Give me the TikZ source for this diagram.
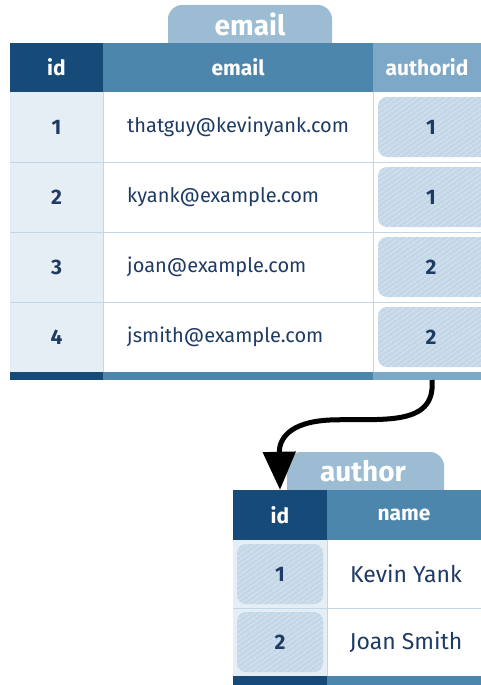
\documentclass[tikz,border=0pt]{standalone}
\usepackage{fontspec}
\setmainfont{Fira Sans}
\usepackage{tikz}
\usetikzlibrary{arrows.meta, patterns.meta, positioning}

\definecolor{hdark}{HTML}{164A78}
\definecolor{hmid}{HTML}{4D86AD}
\definecolor{hlight}{HTML}{7EA8C7}
\definecolor{tabc}{HTML}{9BBCD3}
\definecolor{idbg}{HTML}{E6EEF5}
\definecolor{linec}{HTML}{C3D6E6}
\definecolor{hatchc}{HTML}{C2D6E7}
\definecolor{txt}{HTML}{1F3B63}

\begin{document}
\begin{tikzpicture}[x=1pt,y=-1pt,
  hcell/.style={text=white, font=\bfseries\fontsize{21}{21}\selectfont, inner sep=0pt},
  cell/.style={text=txt, font=\fontsize{20}{20}\selectfont, inner sep=0pt},
  num/.style={text=txt, font=\bfseries\fontsize{21}{21}\selectfont, inner sep=0pt},
  tabtitle/.style={text=white, font=\bfseries\fontsize{28}{28}\selectfont, inner sep=0pt},
  hatchbox/.style={fill=hatchc, rounded corners=9pt, postaction={pattern={Lines[angle=35,distance=4pt,line width=1pt]}, pattern color=white!45!hatchc}},
  rule/.style={draw=linec, line width=1pt},
  fk/.style={line width=5pt, -{Triangle[width=32pt,length=38pt]}}]
\useasboundingbox (0,0) rectangle (481,685);
\clip (0,0) rectangle (481,685);

% email table
\fill[tabc, rounded corners=14pt] (168,60) -- (168,5) -- (332,5) -- (332,60) -- cycle;
\node[tabtitle] (temail) at (250,24) {email};
\node[hcell, fill=hdark, minimum width=93pt, minimum height=49pt] (hid) at (56.5,67.5) {id};
\node[hcell, fill=hmid, minimum width=270pt, minimum height=49pt] (hemail) at (238,67.5) {email};
\node[hcell, fill=hlight, minimum width=108pt, minimum height=49pt] (hauth) at (427,67.5) {authorid};
\fill[idbg] (10,92) rectangle (103,372);
\foreach \i/\mail/\aid in {1/thatguy@kevinyank.com/1, 2/kyank@example.com/1,
                           3/joan@example.com/2, 4/jsmith@example.com/2} {
  \fill[hatchbox] (378,{92+70*(\i-1)+5}) rectangle (500,{92+70*\i-5});
  \node[num] (eid\i) at (56.5,{127+70*(\i-1)}) {\i};
  \node[cell, anchor=west] (email\i) at (127,{127+70*(\i-1)}) {\mail};
  \node[num] (eaut\i) at (431,{127+70*(\i-1)}) {\aid};
}
\foreach \y in {162,232,302}
  \draw[rule] (10,\y) -- (481,\y);
\draw[rule] (103,92) -- (103,372);
\draw[rule] (373,92) -- (373,372);
\fill[hdark] (10,372) rectangle (103,380);
\fill[hmid] (103,372) rectangle (373,380);
\fill[hlight] (373,372) rectangle (481,380);

% author table
\fill[tabc, rounded corners=14pt] (287,505) -- (287,452) -- (444,452) -- (444,505) -- cycle;
\node[tabtitle] (tauthor) at (363,471) {author};
\node[hcell, fill=hdark, minimum width=94pt, minimum height=50pt] (haid) at (280,515) {id};
\node[hcell, fill=hmid, minimum width=154pt, minimum height=50pt] (hname) at (404,515) {name};
\fill[idbg] (233,540) rectangle (327,676);
\foreach \i/\who in {1/Kevin Yank, 2/Joan Smith} {
  \fill[hatchbox] (237,{540+68*(\i-1)+4}) rectangle (323,{540+68*\i-4});
  \node[num] (aid\i) at (280,{574+68*(\i-1)}) {\i};
  \node[cell, font=\fontsize{23}{23}\selectfont] (aname\i) at (406,{574+68*(\i-1)}) {\who};
}
\draw[rule] (233,608) -- (481,608);
\draw[rule] (327,540) -- (327,676);
\fill[hdark] (233,676) rectangle (327,685);
\fill[hmid] (327,676) rectangle (481,685);

% foreign key
\coordinate (fkfrom) at (432,380);
\draw[fk] (fkfrom) .. controls (436,428) and (380,418) .. (330,420)
  .. controls (288,422) and (279,440) .. (haid.north);
\end{tikzpicture}
\end{document}
